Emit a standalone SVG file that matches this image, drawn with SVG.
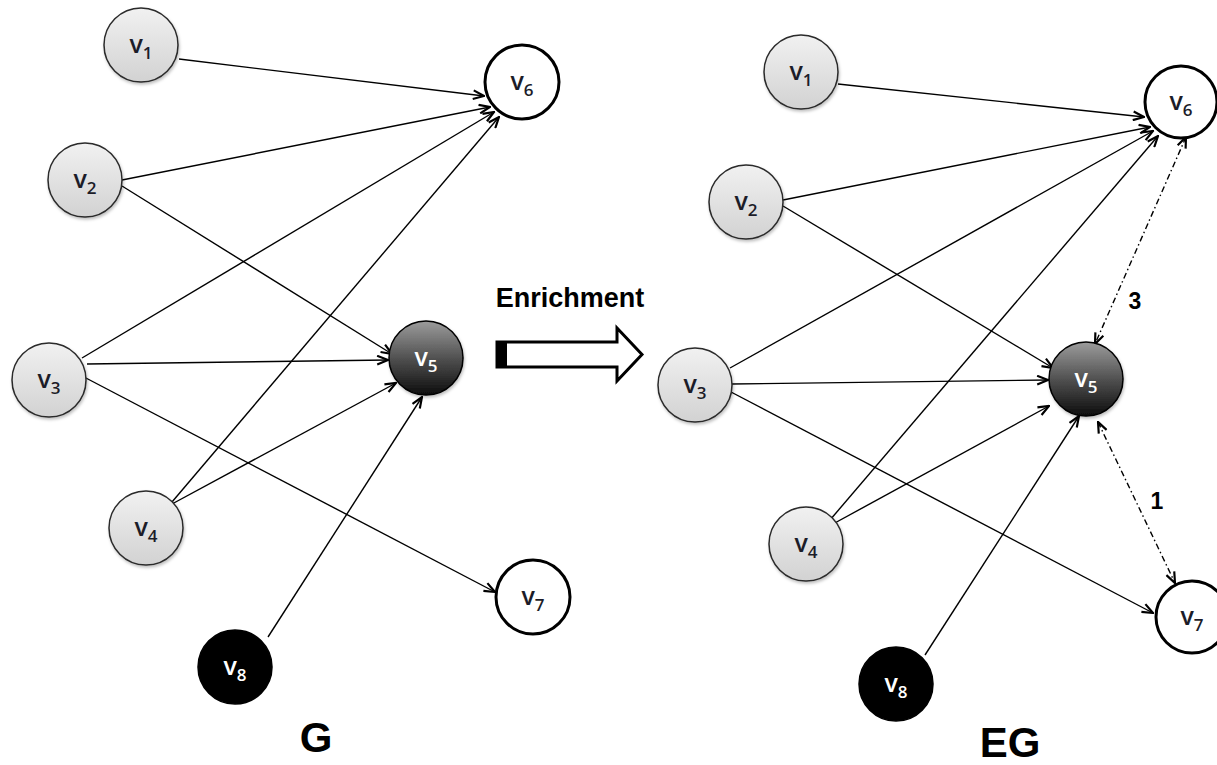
<svg xmlns="http://www.w3.org/2000/svg" width="1217" height="765" viewBox="0 0 1217 765">
  <defs>
    <linearGradient id="gLight" x1="0" y1="0" x2="0" y2="1">
      <stop offset="0" stop-color="#f1f1f1"/>
      <stop offset="1" stop-color="#d2d2d2"/>
    </linearGradient>
    <linearGradient id="gDark" x1="0" y1="0" x2="0" y2="1">
      <stop offset="0" stop-color="#9c9c9c"/>
      <stop offset="0.55" stop-color="#4a4a4a"/>
      <stop offset="1" stop-color="#0d0d0d"/>
    </linearGradient>
    <filter id="shadow" x="-20%" y="-20%" width="140%" height="140%">
      <feDropShadow dx="1" dy="2" stdDeviation="1.5" flood-color="#000" flood-opacity="0.25"/>
    </filter>
    <marker id="arr" viewBox="0 0 12 10" refX="11" refY="5" markerWidth="13" markerHeight="11" markerUnits="userSpaceOnUse" orient="auto-start-reverse">
      <path d="M1,1 L11,5 L1,9" fill="none" stroke="#000" stroke-width="2" stroke-linejoin="miter"/>
    </marker>
  </defs>
  <style>
    .edge { stroke: #000; stroke-width: 1.4; fill: none; marker-end: url(#arr); }
    .dash { stroke: #000; stroke-width: 1.4; fill: none; stroke-dasharray: 6 3 1.5 3; marker-start: url(#arr); marker-end: url(#arr); }
    .light { fill: url(#gLight); stroke: #2a2a2a; stroke-width: 1.5; filter: url(#shadow); }
    .dark { fill: url(#gDark); stroke: #000; stroke-width: 1.5; filter: url(#shadow); }
    .black { fill: #000; stroke: #000; stroke-width: 1.5; }
    .white { fill: #fff; stroke: #000; stroke-width: 3; }
    .lbl { font-family: "Open Sans", "Liberation Sans", sans-serif; font-size: 25px; font-weight: 600; fill: #1c1c28; text-anchor: middle; }
    .lblw { font-family: "Open Sans", "Liberation Sans", sans-serif; font-size: 25px; font-weight: 600; fill: #fff; text-anchor: middle; }
    .sub { font-size: 17px; }
    .big { font-family: "Liberation Sans", Arial, sans-serif; font-weight: bold; fill: #000; text-anchor: middle; }
  </style>

  <!-- graph G: connectors -->
  <g id="edges-G">
    <line class="edge" x1="179" y1="59" x2="484" y2="96"/>
    <line class="edge" x1="122" y1="180" x2="490" y2="107"/>
    <line class="edge" x1="122" y1="186" x2="392" y2="354"/>
    <line class="edge" x1="82" y1="358" x2="494" y2="112"/>
    <line class="edge" x1="87" y1="364" x2="388" y2="360"/>
    <line class="edge" x1="84" y1="377" x2="495" y2="592"/>
    <line class="edge" x1="172" y1="502" x2="499" y2="117"/>
    <line class="edge" x1="172" y1="504" x2="396" y2="383"/>
    <line class="edge" x1="268" y1="637" x2="422" y2="397"/>
  </g>

  <!-- graph G: nodes -->
  <g id="G-v1"><circle class="light" cx="141" cy="45" r="37"/><text class="lbl" x="141" y="53">v<tspan class="sub" dy="6">1</tspan></text></g>
  <g id="G-v2"><circle class="light" cx="85" cy="180" r="37"/><text class="lbl" x="85" y="188">v<tspan class="sub" dy="6">2</tspan></text></g>
  <g id="G-v3"><circle class="light" cx="49" cy="380" r="37"/><text class="lbl" x="49" y="388">v<tspan class="sub" dy="6">3</tspan></text></g>
  <g id="G-v4"><circle class="light" cx="146" cy="528" r="37"/><text class="lbl" x="146" y="536">v<tspan class="sub" dy="6">4</tspan></text></g>
  <g id="G-v5"><circle class="dark" cx="426" cy="358" r="37"/><text class="lblw" x="426" y="366">v<tspan class="sub" dy="6">5</tspan></text></g>
  <g id="G-v6"><circle class="white" cx="522" cy="82" r="37"/><text class="lbl" x="522" y="90">v<tspan class="sub" dy="6">6</tspan></text></g>
  <g id="G-v7"><circle class="white" cx="533" cy="597" r="37"/><text class="lbl" x="533" y="605">v<tspan class="sub" dy="6">7</tspan></text></g>
  <g id="G-v8"><circle class="black" cx="235" cy="667" r="37"/><text class="lblw" x="235" y="675">v<tspan class="sub" dy="6">8</tspan></text></g>

  <!-- enrichment step -->
  <g id="enrichment">
    <text class="big" x="570" y="307" font-size="27">Enrichment</text>
    <path d="M497,342 L617,342 L617,328 L642,354.5 L617,381 L617,367 L497,367 Z" fill="#fff" stroke="#000" stroke-width="3" stroke-linejoin="miter"/>
    <rect x="497" y="342" width="10" height="25" fill="#000"/>
  </g>

  <!-- graph EG: connectors -->
  <g id="edges-EG">
    <line class="edge" x1="838" y1="84" x2="1144" y2="117"/>
    <line class="edge" x1="783" y1="200" x2="1150" y2="127"/>
    <line class="edge" x1="783" y1="206" x2="1053" y2="368"/>
    <line class="edge" x1="730" y1="368" x2="1153" y2="131"/>
    <line class="edge" x1="732" y1="384" x2="1048" y2="380"/>
    <line class="edge" x1="731" y1="392" x2="1153" y2="613"/>
    <line class="edge" x1="830" y1="520" x2="1158" y2="136"/>
    <line class="edge" x1="833" y1="524" x2="1049" y2="406"/>
    <line class="edge" x1="925" y1="655" x2="1079" y2="416"/>
    <line class="dash" x1="1186" y1="137" x2="1095" y2="344"/>
    <line class="dash" x1="1098" y1="422" x2="1175" y2="583"/>
  </g>
  <g id="weights">
    <text class="big" x="1135" y="309" font-size="23">3</text>
    <text class="big" x="1157" y="509" font-size="23">1</text>
  </g>

  <!-- graph EG: nodes -->
  <g id="EG-v1"><circle class="light" cx="801" cy="72" r="37"/><text class="lbl" x="801" y="80">v<tspan class="sub" dy="6">1</tspan></text></g>
  <g id="EG-v2"><circle class="light" cx="746" cy="202" r="37"/><text class="lbl" x="746" y="210">v<tspan class="sub" dy="6">2</tspan></text></g>
  <g id="EG-v3"><circle class="light" cx="695" cy="385" r="37"/><text class="lbl" x="695" y="393">v<tspan class="sub" dy="6">3</tspan></text></g>
  <g id="EG-v4"><circle class="light" cx="806" cy="544" r="37"/><text class="lbl" x="806" y="552">v<tspan class="sub" dy="6">4</tspan></text></g>
  <g id="EG-v5"><circle class="dark" cx="1086" cy="379" r="37"/><text class="lblw" x="1086" y="387">v<tspan class="sub" dy="6">5</tspan></text></g>
  <g id="EG-v6"><circle class="white" cx="1181" cy="102" r="36"/><text class="lbl" x="1181" y="110">v<tspan class="sub" dy="6">6</tspan></text></g>
  <g id="EG-v7"><circle class="white" cx="1192" cy="617" r="36"/><text class="lbl" x="1192" y="625">v<tspan class="sub" dy="6">7</tspan></text></g>
  <g id="EG-v8"><circle class="black" cx="896" cy="684" r="37"/><text class="lblw" x="896" y="692">v<tspan class="sub" dy="6">8</tspan></text></g>

  <!-- graph titles -->
  <g id="titles">
    <text class="big" x="316" y="752" font-size="42">G</text>
    <text class="big" x="1010" y="757" font-size="42">EG</text>
  </g>
</svg>
